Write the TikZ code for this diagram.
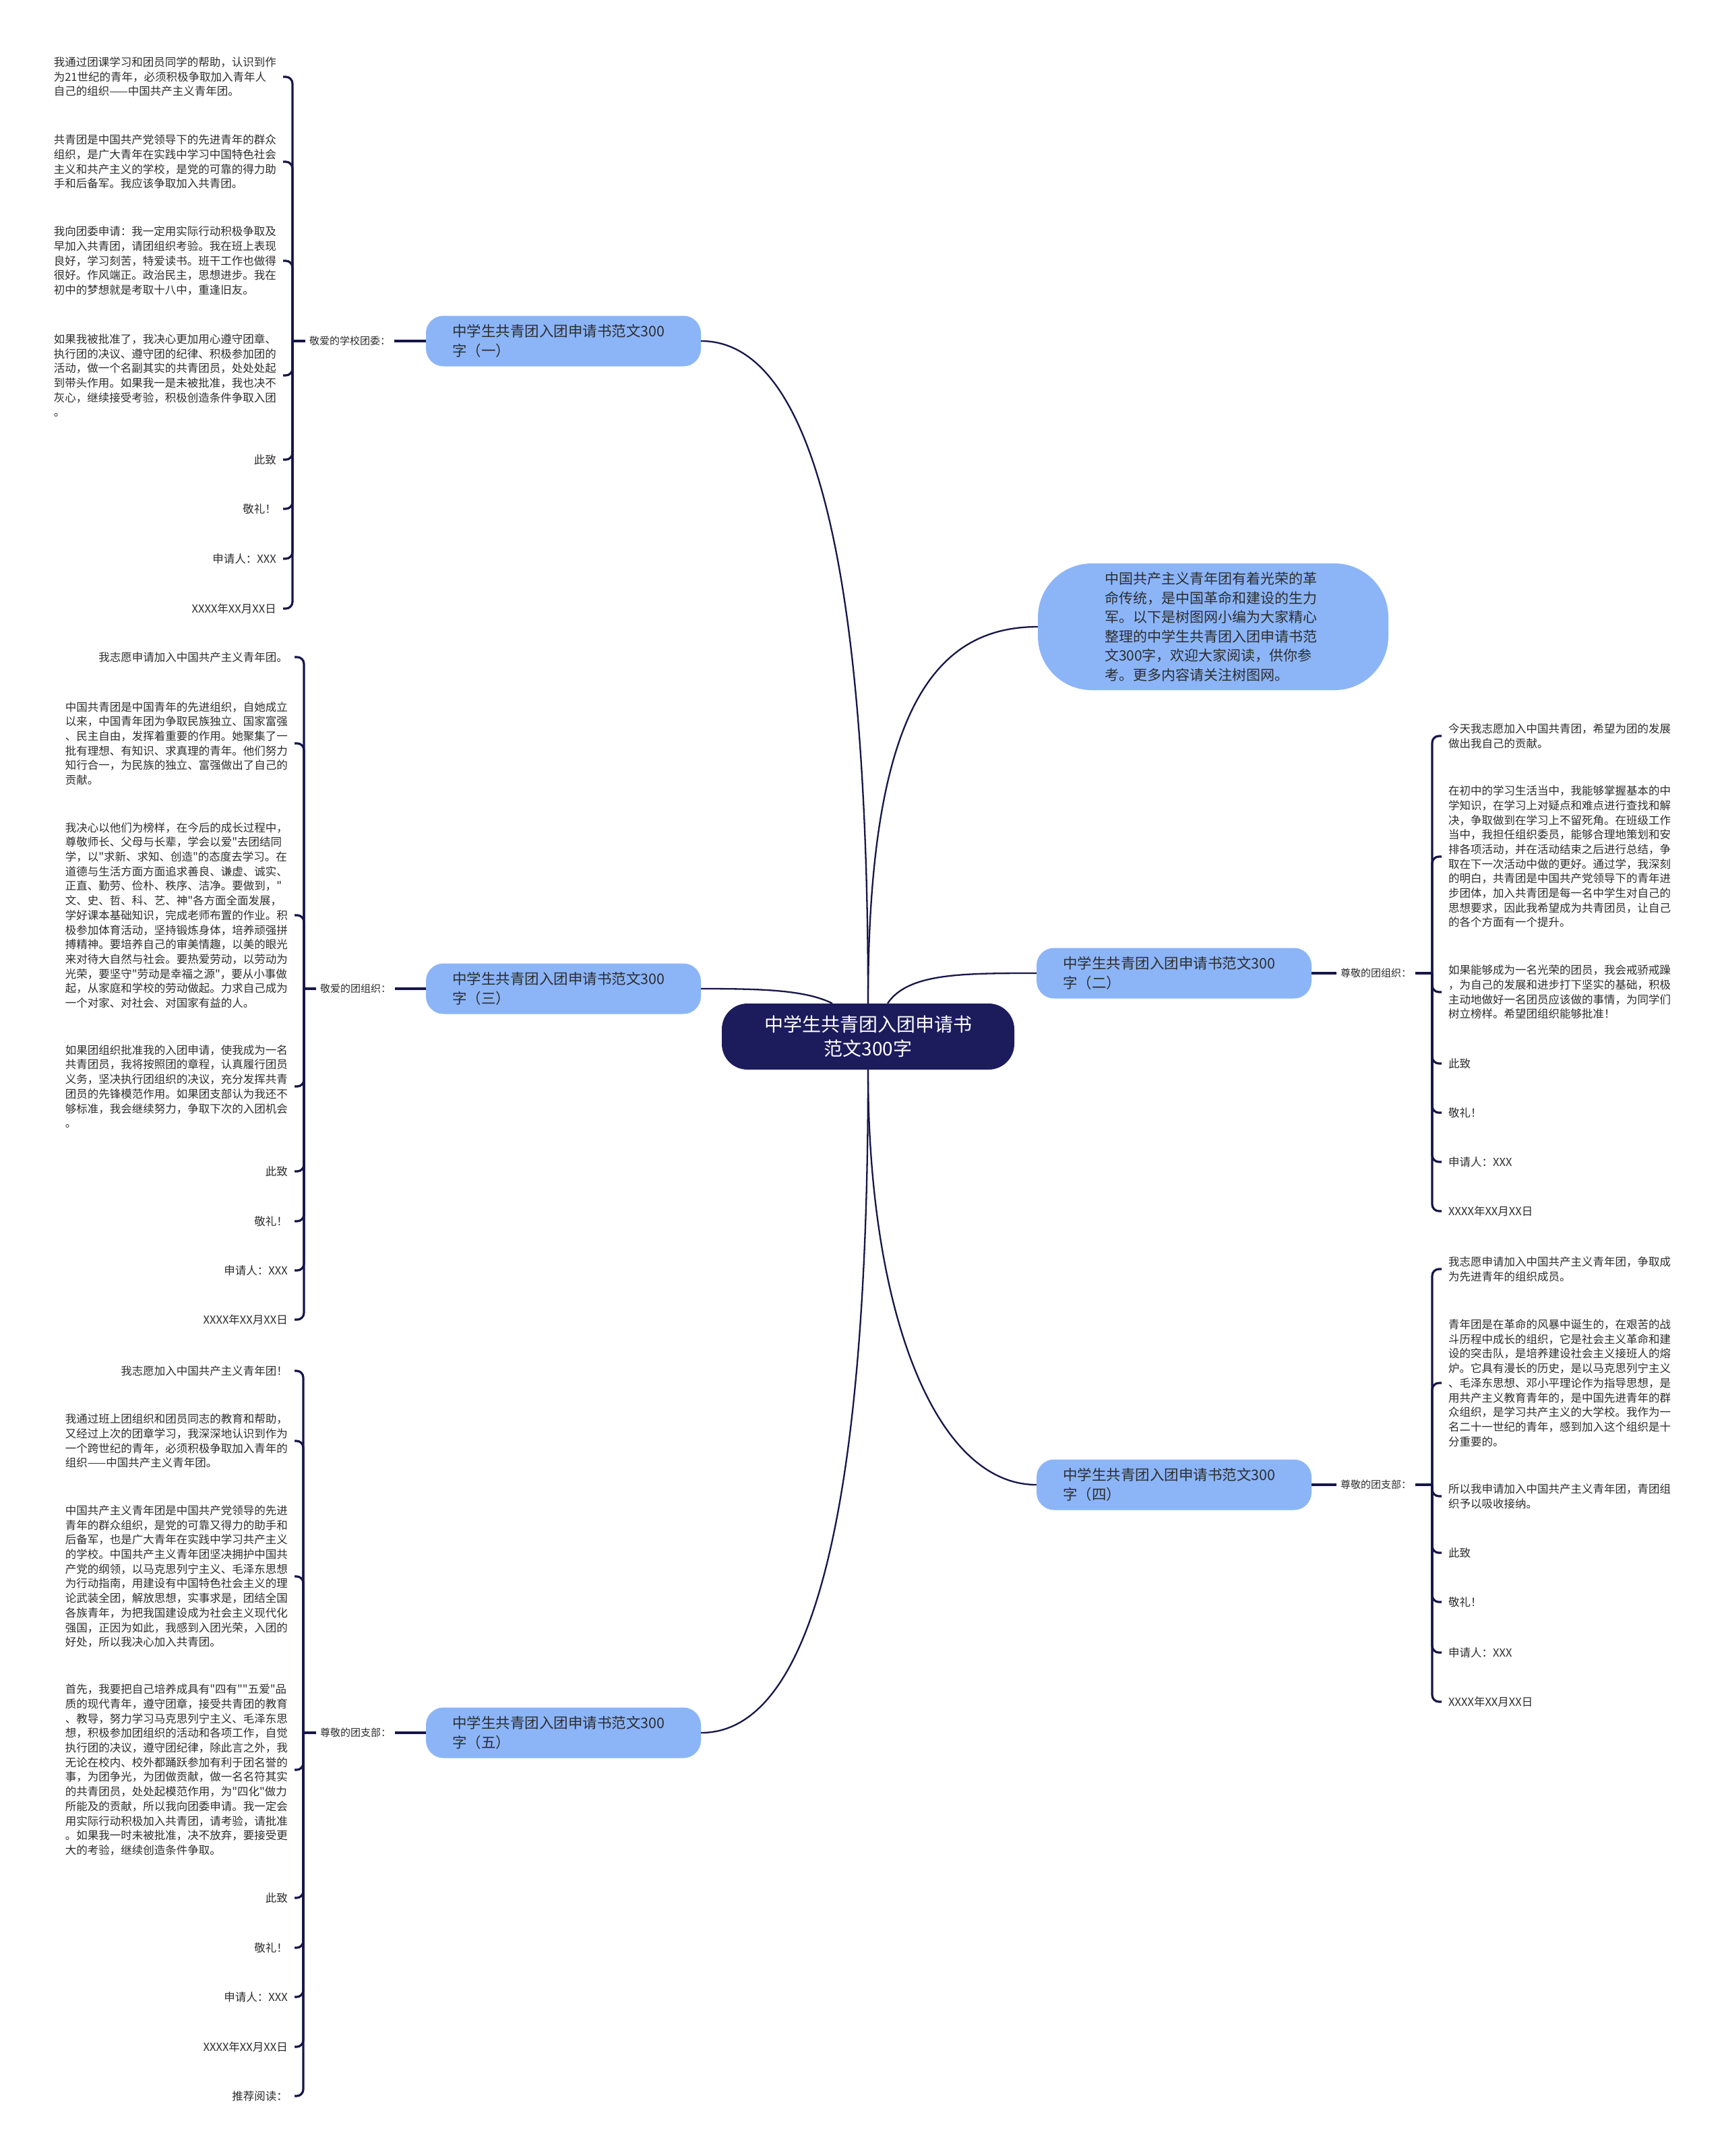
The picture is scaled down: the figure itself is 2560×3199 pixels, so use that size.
\documentclass[tikz,border=0pt]{standalone}
\usepackage{fontspec}
\setmainfont{Noto Sans CJK SC}[Ligatures=TeXOff]
\definecolor{navy}{RGB}{22,22,74}
\definecolor{cnode}{RGB}{28,27,92}
\definecolor{bnode}{RGB}{140,181,248}
\definecolor{txt}{RGB}{45,45,45}
\begin{document}
\begin{tikzpicture}[x=1pt,y=-1pt,
 leaf/.style={inner sep=0pt, align=left, text=txt, font=\fontsize{16.5}{21.7}\selectfont},
 lleaf/.style={leaf, anchor=east},
 rleaf/.style={leaf, anchor=west},
 lab/.style={inner sep=0pt, text=txt, font=\fontsize{15}{19}\selectfont},
 branch/.style={fill=bnode, rounded corners=26pt, minimum width=408pt, minimum height=75pt, text width=330pt, align=left, inner sep=0pt, text=txt, font=\fontsize{21.5}{29}\selectfont},
 center/.style={fill=cnode, rounded corners=38pt, minimum width=434pt, minimum height=98pt, align=center, inner sep=0pt, text=white, font=\fontsize{28}{36}\selectfont},
 intro/.style={fill=bnode, rounded corners=80pt, minimum width=520pt, minimum height=188pt, text width=322pt, align=left, inner sep=0pt, text=txt, font=\fontsize{21}{28.6}\selectfont},
 conn/.style={draw=navy, line width=2.3pt},
 brk/.style={draw=navy, line width=3.2pt, rounded corners=10pt}
]
\fill[white] (0,0) rectangle (2560,3199);
\useasboundingbox (0,0) rectangle (2560,3199);

% main nodes
\node[center] (C) at (1288,1538) {中学生共青团入团申请书\\范文300字};
\node[intro] (I) at (1800,930) {中国共产主义青年团有着光荣的革\\命传统，是中国革命和建设的生力\\军。以下是树图网小编为大家精心\\整理的中学生共青团入团申请书范\\文300字，欢迎大家阅读，供你参\\考。更多内容请关注树图网。};
\node[branch] (B1) at (836,506) {中学生共青团入团申请书范文300\\字（一）};
\node[branch] (B2) at (1742,1444) {中学生共青团入团申请书范文300\\字（二）};
\node[branch] (B3) at (836,1467) {中学生共青团入团申请书范文300\\字（三）};
\node[branch] (B4) at (1742,2203) {中学生共青团入团申请书范文300\\字（四）};
\node[branch] (B5) at (836,2571) {中学生共青团入团申请书范文300\\字（五）};

% center connectors
\draw[conn] (C.north) .. controls +(0,-590) and +(180,0) .. (B1.east);
\draw[conn] (C.north) .. controls +(0,-440) and +(-150,0) .. (I.west);
\draw[conn] ([xshift=29pt]C.north) .. controls +(30,-45) and +(-110,0) .. (B2.west);
\draw[conn] ([xshift=-53pt]C.north) .. controls +(-40,-20) and +(90,0) .. (B3.east);
\draw[conn] (C.south) .. controls +(0,360) and +(-150,0) .. (B4.west);
\draw[conn] (C.south) .. controls +(0,590) and +(180,0) .. (B5.east);

% ---------- branch 1 ----------
\node[lab, anchor=west] (T1) at (459,506) {敬爱的学校团委：};
\coordinate (J1) at (434,506);
\draw[brk] (B1.west) -- ([xshift=6pt]T1.east);
\draw[brk] (J1) -- ([xshift=-6pt]T1.west);
\node[lleaf] (L1a) at (410,114) {我通过团课学习和团员同学的帮助，认识到作\\为21世纪的青年，必须积极争取加入青年人\\自己的组织——中国共产主义青年团。};
\node[lleaf] (L1b) at (410,240) {共青团是中国共产党领导下的先进青年的群众\\组织，是广大青年在实践中学习中国特色社会\\主义和共产主义的学校，是党的可靠的得力助\\手和后备军。我应该争取加入共青团。};
\node[lleaf] (L1c) at (410,387) {我向团委申请：我一定用实际行动积极争取及\\早加入共青团，请团组织考验。我在班上表现\\良好，学习刻苦，特爱读书。班干工作也做得\\很好。作风端正。政治民主，思想进步。我在\\初中的梦想就是考取十八中，重逢旧友。};
\node[lleaf] (L1d) at (410,557) {如果我被批准了，我决心更加用心遵守团章、\\执行团的决议、遵守团的纪律、积极参加团的\\活动，做一个名副其实的共青团员，处处处起\\到带头作用。如果我一是未被批准，我也决不\\灰心，继续接受考验，积极创造条件争取入团\\。};
\node[lleaf] (L1e) at (410,682) {此致};
\node[lleaf] (L1f) at (410,755) {敬礼！};
\node[lleaf] (L1g) at (410,829) {申请人：XXX};
\node[lleaf] (L1h) at (410,903) {XXXX年XX月XX日};
\foreach \n in {L1a,L1b,L1c,L1d,L1e,L1f,L1g,L1h}
  \draw[brk] ([xshift=10pt]\n.east) -| (J1);

% ---------- branch 3 ----------
\node[lab, anchor=west] (T3) at (475,1467) {敬爱的团组织：};
\coordinate (J3) at (451,1467);
\draw[brk] (B3.west) -- ([xshift=6pt]T3.east);
\draw[brk] (J3) -- ([xshift=-6pt]T3.west);
\node[lleaf] (L3a) at (427,975) {我志愿申请加入中国共产主义青年团。};
\node[lleaf] (L3b) at (427,1103) {中国共青团是中国青年的先进组织，自她成立\\以来，中国青年团为争取民族独立、国家富强\\、民主自由，发挥着重要的作用。她聚集了一\\批有理想、有知识、求真理的青年。他们努力\\知行合一，为民族的独立、富强做出了自己的\\贡献。};
\node[lleaf] (L3c) at (427,1358) {我决心以他们为榜样，在今后的成长过程中，\\尊敬师长、父母与长辈，学会以爱"去团结同\\学，以"求新、求知、创造"的态度去学习。在\\道德与生活方面方面追求善良、谦虚、诚实、\\正直、勤劳、俭朴、秩序、洁净。要做到，"\\文、史、哲、科、艺、神"各方面全面发展，\\学好课本基础知识，完成老师布置的作业。积\\极参加体育活动，坚持锻炼身体，培养顽强拼\\搏精神。要培养自己的审美情趣，以美的眼光\\来对待大自然与社会。要热爱劳动，以劳动为\\光荣，要坚守"劳动是幸福之源"，要从小事做\\起，从家庭和学校的劳动做起。力求自己成为\\一个对家、对社会、对国家有益的人。};
\node[lleaf] (L3d) at (427,1612) {如果团组织批准我的入团申请，使我成为一名\\共青团员，我将按照团的章程，认真履行团员\\义务，坚决执行团组织的决议，充分发挥共青\\团员的先锋模范作用。如果团支部认为我还不\\够标准，我会继续努力，争取下次的入团机会\\。};
\node[lleaf] (L3e) at (427,1738) {此致};
\node[lleaf] (L3f) at (427,1812) {敬礼！};
\node[lleaf] (L3g) at (427,1885) {申请人：XXX};
\node[lleaf] (L3h) at (427,1958) {XXXX年XX月XX日};
\foreach \n in {L3a,L3b,L3c,L3d,L3e,L3f,L3g,L3h}
  \draw[brk] ([xshift=10pt]\n.east) -| (J3);

% ---------- branch 5 ----------
\node[lab, anchor=west] (T5) at (475,2571) {尊敬的团支部：};
\coordinate (J5) at (450,2571);
\draw[brk] (B5.west) -- ([xshift=6pt]T5.east);
\draw[brk] (J5) -- ([xshift=-6pt]T5.west);
\node[lleaf] (L5a) at (427,2034) {我志愿加入中国共产主义青年团！};
\node[lleaf] (L5b) at (427,2138) {我通过班上团组织和团员同志的教育和帮助，\\又经过上次的团章学习，我深深地认识到作为\\一个跨世纪的青年，必须积极争取加入青年的\\组织——中国共产主义青年团。};
\node[lleaf] (L5c) at (427,2339) {中国共产主义青年团是中国共产党领导的先进\\青年的群众组织，是党的可靠又得力的助手和\\后备军，也是广大青年在实践中学习共产主义\\的学校。中国共产主义青年团坚决拥护中国共\\产党的纲领，以马克思列宁主义、毛泽东思想\\为行动指南，用建设有中国特色社会主义的理\\论武装全团，解放思想，实事求是，团结全国\\各族青年，为把我国建设成为社会主义现代化\\强国，正因为如此，我感到入团光荣，入团的\\好处，所以我决心加入共青团。};
\node[lleaf] (L5d) at (427,2626) {首先，我要把自己培养成具有"四有""五爱"品\\质的现代青年，遵守团章，接受共青团的教育\\、教导，努力学习马克思列宁主义、毛泽东思\\想，积极参加团组织的活动和各项工作，自觉\\执行团的决议，遵守团纪律，除此言之外，我\\无论在校内、校外都踊跃参加有利于团名誉的\\事，为团争光，为团做贡献，做一名名符其实\\的共青团员，处处起模范作用，为"四化"做力\\所能及的贡献，所以我向团委申请。我一定会\\用实际行动积极加入共青团，请考验，请批准\\。如果我一时未被批准，决不放弃，要接受更\\大的考验，继续创造条件争取。};
\node[lleaf] (L5e) at (427,2816) {此致};
\node[lleaf] (L5f) at (427,2890) {敬礼！};
\node[lleaf] (L5g) at (427,2963) {申请人：XXX};
\node[lleaf] (L5h) at (427,3037) {XXXX年XX月XX日};
\node[lleaf] (L5i) at (427,3110) {推荐阅读：};
\foreach \n in {L5a,L5b,L5c,L5d,L5e,L5f,L5g,L5h,L5i}
  \draw[brk] ([xshift=10pt]\n.east) -| (J5);

% ---------- branch 2 ----------
\node[lab, anchor=west] (T2) at (1989,1444) {尊敬的团组织：};
\coordinate (J2) at (2125,1444);
\draw[brk] (B2.east) -- ([xshift=-6pt]T2.west);
\draw[brk] (J2) -- ([xshift=6pt]T2.east);
\node[rleaf] (R2a) at (2149,1092) {今天我志愿加入中国共青团，希望为团的发展\\做出我自己的贡献。};
\node[rleaf] (R2b) at (2149,1271) {在初中的学习生活当中，我能够掌握基本的中\\学知识，在学习上对疑点和难点进行查找和解\\决，争取做到在学习上不留死角。在班级工作\\当中，我担任组织委员，能够合理地策划和安\\排各项活动，并在活动结束之后进行总结，争\\取在下一次活动中做的更好。通过学，我深刻\\的明白，共青团是中国共产党领导下的青年进\\步团体，加入共青团是每一名中学生对自己的\\思想要求，因此我希望成为共青团员，让自己\\的各个方面有一个提升。};
\node[rleaf] (R2c) at (2149,1472) {如果能够成为一名光荣的团员，我会戒骄戒躁\\，为自己的发展和进步打下坚实的基础，积极\\主动地做好一名团员应该做的事情，为同学们\\树立榜样。希望团组织能够批准！};
\node[rleaf] (R2d) at (2149,1578) {此致};
\node[rleaf] (R2e) at (2149,1651) {敬礼！};
\node[rleaf] (R2f) at (2149,1724) {申请人：XXX};
\node[rleaf] (R2g) at (2149,1797) {XXXX年XX月XX日};
\foreach \n in {R2a,R2b,R2c,R2d,R2e,R2f,R2g}
  \draw[brk] ([xshift=-10pt]\n.west) -| (J2);

% ---------- branch 4 ----------
\node[lab, anchor=west] (T4) at (1989,2203) {尊敬的团支部：};
\coordinate (J4) at (2125,2203);
\draw[brk] (B4.east) -- ([xshift=-6pt]T4.west);
\draw[brk] (J4) -- ([xshift=6pt]T4.east);
\node[rleaf] (R4a) at (2149,1883) {我志愿申请加入中国共产主义青年团，争取成\\为先进青年的组织成员。};
\node[rleaf] (R4b) at (2149,2052) {青年团是在革命的风暴中诞生的，在艰苦的战\\斗历程中成长的组织，它是社会主义革命和建\\设的突击队，是培养建设社会主义接班人的熔\\炉。它具有漫长的历史，是以马克思列宁主义\\、毛泽东思想、邓小平理论作为指导思想，是\\用共产主义教育青年的，是中国先进青年的群\\众组织，是学习共产主义的大学校。我作为一\\名二十一世纪的青年，感到加入这个组织是十\\分重要的。};
\node[rleaf] (R4c) at (2149,2220) {所以我申请加入中国共产主义青年团，青团组\\织予以吸收接纳。};
\node[rleaf] (R4d) at (2149,2304) {此致};
\node[rleaf] (R4e) at (2149,2377) {敬礼！};
\node[rleaf] (R4f) at (2149,2452) {申请人：XXX};
\node[rleaf] (R4g) at (2149,2525) {XXXX年XX月XX日};
\foreach \n in {R4a,R4b,R4c,R4d,R4e,R4f,R4g}
  \draw[brk] ([xshift=-10pt]\n.west) -| (J4);
\end{tikzpicture}
\end{document}
